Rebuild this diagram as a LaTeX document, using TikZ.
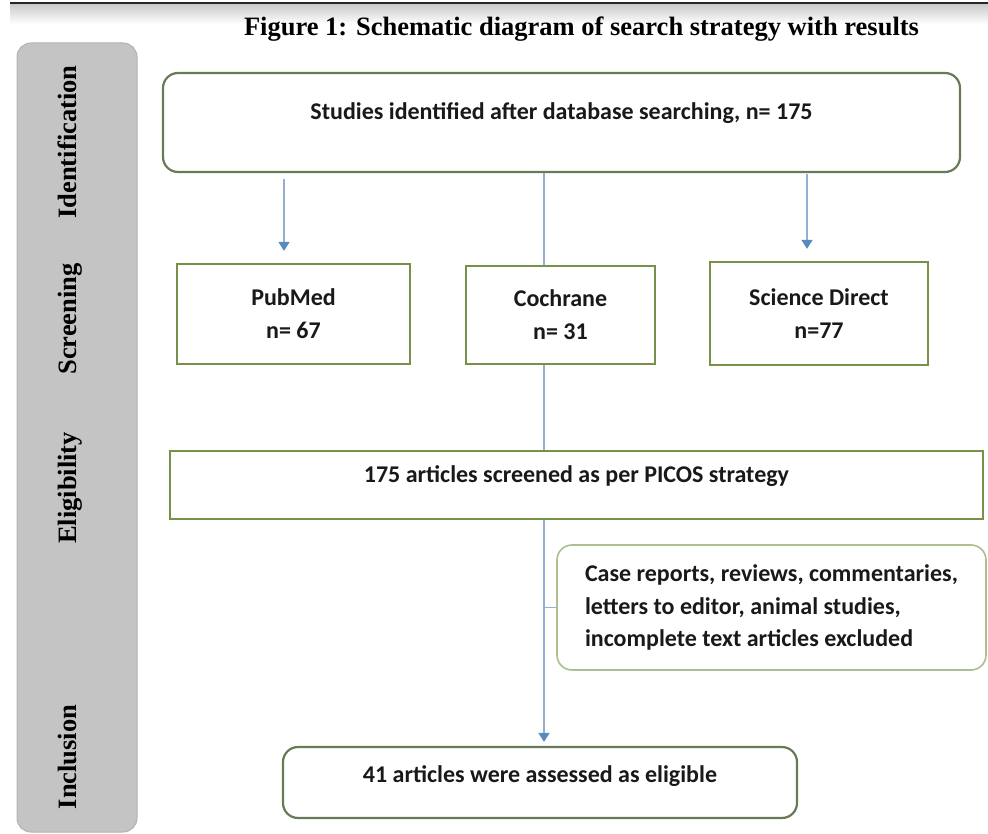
\documentclass[tikz,border=0pt]{standalone}
\usepackage{fontspec}
\setmainfont{Liberation Serif}
\newfontfamily\boxfont{Carlito}
\usetikzlibrary{arrows.meta}
\definecolor{boxgreen}{RGB}{118,146,72}
\definecolor{darkgreen}{RGB}{104,122,86}
\definecolor{palegreen}{RGB}{172,190,146}
\definecolor{flowblue}{RGB}{146,176,208}
\definecolor{tipblue}{RGB}{88,138,190}
\definecolor{sidegray}{RGB}{196,196,196}

\begin{document}
\begin{tikzpicture}[x=1pt, y=-1pt,
  studybox/.style = {draw=boxgreen, line width=2.2pt, fill=white, align=center,
	text=black!90, font=\boxfont\bfseries\fontsize{24}{33}\selectfont},
  roundbox/.style = {studybox, draw=darkgreen, rounded corners=15pt},
  phaselabel/.style = {rotate=90, anchor=base, font=\bfseries\fontsize{26.5}{30}\selectfont},
  flowline/.style = {draw=flowblue, line width=1.3pt},
  flowarrow/.style = {flowline, -{Triangle[width=11pt, length=9pt, color=tipblue]}}]

\useasboundingbox (0,0) rectangle (988,834);
\shade[top color=black!22, bottom color=white] (10,3) rectangle (988,24);
\draw[line width=1.6pt, black!85] (10,3) -- (988,3);
\node[anchor=base, font=\bfseries\fontsize{26.5}{30}\selectfont]
	(title) at (581.5,36) {Figure 1: Schematic diagram of search strategy with results};

\draw[fill=sidegray, draw=black!30, line width=1pt, rounded corners=14pt] (17,43) rectangle (137,832);
\node[phaselabel] (identlbl) at (76,142) {Identification};
\node[phaselabel] (screenlbl) at (76,319) {Screening};
\node[phaselabel] (eliglbl) at (76,488) {Eligibility};
\node[phaselabel] (incllbl) at (76,757) {Inclusion};

\node[roundbox, minimum width=797pt, inner ysep=0pt, text height=47pt, text depth=52pt, anchor=base]
	(ident) at (561.5,120) {Studies identified after database searching, n= 175};
\node[studybox, minimum width=233pt, minimum height=100pt] (pubmed) at (293.5,314) {PubMed\\n= 67};
\node[studybox, minimum width=189pt, minimum height=98pt] (cochrane) at (560.5,315) {Cochrane\\n= 31};
\node[studybox, minimum width=218pt, minimum height=103pt] (scidirect) at (819,313.5) {Science Direct\\n=77};
\node[studybox, minimum width=813pt, inner ysep=0pt, text height=31pt, text depth=37pt, anchor=base]
	(elig) at (576.5,482) {175 articles screened as per PICOS strategy};
\node[roundbox, draw=palegreen, line width=1.6pt, minimum width=429pt, minimum height=125pt,
	align=left, font=\boxfont\bfseries\fontsize{24}{32.5}\selectfont]
	(excl) at (771.5,607.5) {Case reports, reviews, commentaries,\\letters to editor, animal studies,\\incomplete text articles excluded};
\node[roundbox, minimum width=514pt, inner ysep=0pt, text height=35pt, text depth=36pt, anchor=base]
	(final) at (540,782) {41 articles were assessed as eligible};

\coordinate (leftx) at (284,0);
\coordinate (midx) at (544,0);
\coordinate (rightx) at (807,0);
\draw[flowarrow, shorten <=6pt, shorten >=12pt] (ident.south -| leftx) -- (pubmed.north -| leftx);
\draw[flowarrow, shorten <=1pt, shorten >=12pt] (ident.south -| rightx) -- (scidirect.north -| rightx);
\draw[flowline] (ident.south -| midx) -- (cochrane.north -| midx)
	(cochrane.south -| midx) -- (elig.north -| midx);
\draw[flowarrow, shorten >=4pt] (elig.south -| midx) -- (final.north -| midx);
\draw[flowline] (excl.west) -- (excl.west -| midx);
\end{tikzpicture}
\end{document}
